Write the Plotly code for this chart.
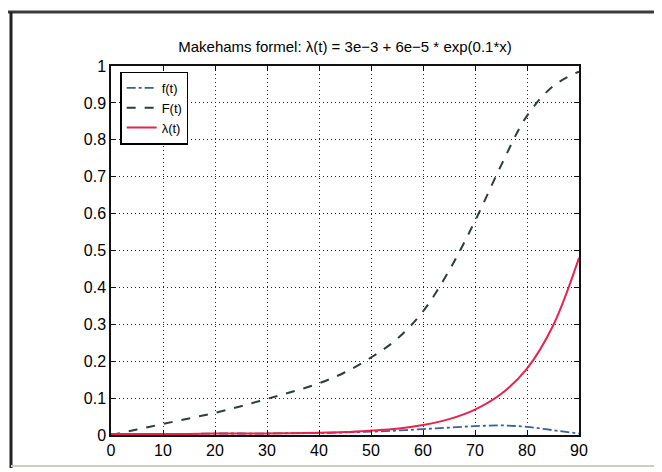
import plotly.graph_objects as go

# values
t_vals = [0, 5, 10, 15, 20, 25, 30, 35, 40, 45, 50, 55, 60, 65, 70, 75, 80, 85, 90]
f_vals = [0.003, 0.003, 0.003, 0.003, 0.004, 0.004, 0.004, 0.005, 0.005, 0.007, 0.009,
          0.012, 0.016, 0.020, 0.024, 0.026, 0.022, 0.013, 0.004]
F_vals = [0.0, 0.015, 0.03, 0.045, 0.06, 0.078, 0.098, 0.118, 0.14, 0.17, 0.21,
          0.26, 0.335, 0.445, 0.58, 0.73, 0.865, 0.945, 0.985]
lam_vals = [0.003, 0.003, 0.003, 0.003, 0.004, 0.004, 0.004, 0.005, 0.006, 0.008, 0.012,
            0.017, 0.027, 0.043, 0.069, 0.111, 0.18, 0.296, 0.48]

x_ticks = [0, 10, 20, 30, 40, 50, 60, 70, 80, 90]
y_ticks = [0, 0.1, 0.2, 0.3, 0.4, 0.5, 0.6, 0.7, 0.8, 0.9, 1]

title_text = "Makehams formel: \u03bb(t) = 3e\u22123 + 6e\u22125 * exp(0.1*x)"

FONT = "Liberation Sans, Arial, sans-serif"

fig = go.Figure()
fig.add_trace(go.Scatter(x=t_vals, y=f_vals, name="f(t)", mode="lines",
                         line=dict(color="#3a5f9a", width=1.8, dash="dashdot", shape="spline")))
fig.add_trace(go.Scatter(x=t_vals, y=F_vals, name="F(t)", mode="lines",
                         line=dict(color="#2e3f35", width=2, dash="dash", shape="spline")))
fig.add_trace(go.Scatter(x=t_vals, y=lam_vals, name="\u03bb(t)", mode="lines",
                         line=dict(color="#e8234d", width=2, shape="spline")))

axis_common = dict(
    showline=True, linecolor="#111111", linewidth=1.5, mirror="ticks",
    ticks="inside", ticklen=5, tickcolor="#111111", tickwidth=1.2,
    showgrid=True, gridcolor="#222222", griddash="1px,3px", gridwidth=1.3,
    zeroline=False,
    tickfont=dict(family=FONT, size=16, color="black"),
)

fig.update_xaxes(range=[0, 90], tickvals=x_ticks, **axis_common)
fig.update_yaxes(range=[0, 1], tickvals=y_ticks, **axis_common)

# page body has an 8px margin; plot area targets screen x 111..579, y 66..435
L, R, T, B = 103, 91, 58, 45
PW, PH = 662 - L - R, 472 - T - B

fig.update_layout(
    width=662, height=472,
    margin=dict(l=L, r=R, t=T, b=B),
    paper_bgcolor="white", plot_bgcolor="white",
    title=dict(text=title_text, x=(L + PW / 2) / 662, xanchor="center",
               y=1 - 39 / 472, yanchor="middle",
               font=dict(family=FONT, size=15, color="black")),
    showlegend=True,
    legend=dict(x=0.02, y=0.985, xanchor="left", yanchor="top",
                bgcolor="white", bordercolor="black", borderwidth=1.3,
                font=dict(family=FONT, size=13, color="black"),
                tracegroupgap=0, itemwidth=30),
    shapes=[
        dict(type="line", xref="paper", yref="paper", x0=-L / PW, x1=(662 - L) / PW,
             y0=(472 - B - 4) / PH, y1=(472 - B - 4) / PH,
             line=dict(color="#3a3a3a", width=3)),
        dict(type="line", xref="paper", yref="paper", x0=(3 - L) / PW, x1=(3 - L) / PW,
             y0=(472 - B - 4) / PH, y1=(472 - B - 460) / PH,
             line=dict(color="#222222", width=3)),
        dict(type="line", xref="paper", yref="paper", x0=(3 - L) / PW, x1=(662 - L) / PW,
             y0=(472 - B - 458) / PH, y1=(472 - B - 458) / PH,
             line=dict(color="#cfcfbf", width=2)),
    ],
)

fig.write_html("out.html")
